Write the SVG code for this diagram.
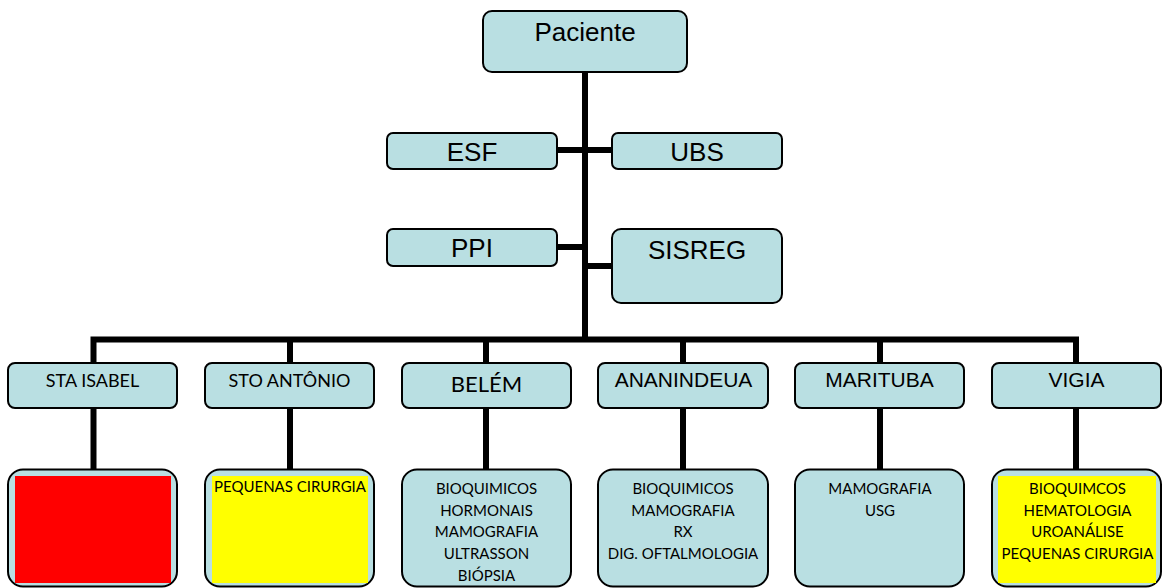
<svg xmlns="http://www.w3.org/2000/svg" width="1164" height="588" viewBox="0 0 1164 588">
<style>
.box{fill:#b9dfe2;stroke:#000;stroke-width:2}
.ar{font-family:"Liberation Sans",Arial,sans-serif;fill:#000;text-anchor:middle}
.ca{font-family:Lato,"Open Sans",sans-serif;fill:#000;text-anchor:middle}
.t26{font-size:26px}
.t21{font-size:21px}
.t18{font-size:18px}
.t22{font-size:22px}
.t15{font-size:15px}
.conn{stroke:#000;stroke-width:6;fill:none}
</style>
<g id="connectors">
<line class="conn" x1="585" y1="72" x2="585" y2="342"/>
<line class="conn" x1="557" y1="150" x2="612" y2="150"/>
<line class="conn" x1="557" y1="247" x2="585" y2="247"/>
<line class="conn" x1="585" y1="266" x2="612" y2="266"/>
<polyline class="conn" points="93.5,363 93.5,339.5 1076,339.5 1076,363"/>
<line class="conn" x1="290" y1="339.5" x2="290" y2="363"/>
<line class="conn" x1="486" y1="339.5" x2="486" y2="363"/>
<line class="conn" x1="683" y1="339.5" x2="683" y2="363"/>
<line class="conn" x1="880" y1="339.5" x2="880" y2="363"/>
<line class="conn" x1="93.5" y1="408" x2="93.5" y2="470"/>
<line class="conn" x1="290" y1="408" x2="290" y2="470"/>
<line class="conn" x1="486" y1="408" x2="486" y2="470"/>
<line class="conn" x1="683" y1="408" x2="683" y2="470"/>
<line class="conn" x1="880" y1="408" x2="880" y2="470"/>
<line class="conn" x1="1076" y1="408" x2="1076" y2="470"/>
</g>
<g id="paciente">
<rect class="box" x="483" y="11" width="204" height="61" rx="9"/>
<text class="ar t26" x="585" y="41">Paciente</text>
</g>
<g id="esf">
<rect class="box" x="387" y="133" width="170" height="36" rx="6"/>
<text class="ar t26" x="472" y="161">ESF</text>
</g>
<g id="ubs">
<rect class="box" x="612" y="133" width="170" height="36" rx="6"/>
<text class="ar t26" x="697" y="161">UBS</text>
</g>
<g id="ppi">
<rect class="box" x="387" y="229" width="170" height="37" rx="6"/>
<text class="ar t26" x="472" y="257">PPI</text>
</g>
<g id="sisreg">
<rect class="box" x="612" y="229" width="170" height="74" rx="9"/>
<text class="ar t26" x="697" y="259">SISREG</text>
</g>
<g id="sta-isabel">
<rect class="box" x="8" y="363" width="169" height="45" rx="7"/>
<text class="ca t18" x="92.5" y="387">STA ISABEL</text>
</g>
<g id="sto-antonio">
<rect class="box" x="205" y="363" width="169" height="45" rx="7"/>
<text class="ca t18" x="289.5" y="387">STO ANTÔNIO</text>
</g>
<g id="belem">
<rect class="box" x="402" y="363" width="169" height="45" rx="7"/>
<text class="ca t22" x="486.5" y="392">BELÉM</text>
</g>
<g id="ananindeua">
<rect class="box" x="598" y="363" width="170" height="45" rx="7"/>
<text class="ar t21" x="683.5" y="387">ANANINDEUA</text>
</g>
<g id="marituba">
<rect class="box" x="795" y="363" width="169" height="45" rx="7"/>
<text class="ar t21" x="879.5" y="387">MARITUBA</text>
</g>
<g id="vigia">
<rect class="box" x="992" y="363" width="169" height="45" rx="7"/>
<text class="ar t21" x="1076.5" y="387">VIGIA</text>
</g>
<g id="sta-isabel-services">
<rect class="box" x="8" y="469.5" width="169" height="117" rx="15"/>
<rect x="15" y="476" width="156" height="107" fill="#ff0000"/>
</g>
<g id="sto-antonio-services">
<rect class="box" x="205" y="469.5" width="169" height="117" rx="15"/>
<rect x="212" y="476" width="156" height="107" fill="#ffff00"/>
<text class="ca t15" x="290" y="492">PEQUENAS CIRURGIA</text>
</g>
<g id="belem-services">
<rect class="box" x="402" y="469.5" width="169" height="117" rx="15"/>
<text class="ca t15" x="486.5" y="494">BIOQUIMICOS</text>
<text class="ca t15" x="486.5" y="515.7">HORMONAIS</text>
<text class="ca t15" x="486.5" y="537.3">MAMOGRAFIA</text>
<text class="ca t15" x="486.5" y="559">ULTRASSON</text>
<text class="ca t15" x="486.5" y="580.7">BIÓPSIA</text>
</g>
<g id="ananindeua-services">
<rect class="box" x="598" y="469.5" width="170" height="117" rx="15"/>
<text class="ca t15" x="683" y="494">BIOQUIMICOS</text>
<text class="ca t15" x="683" y="515.7">MAMOGRAFIA</text>
<text class="ca t15" x="683" y="537.3">RX</text>
<text class="ca t15" x="683" y="559">DIG. OFTALMOLOGIA</text>
</g>
<g id="marituba-services">
<rect class="box" x="795" y="469.5" width="169" height="117" rx="15"/>
<text class="ca t15" x="880" y="494">MAMOGRAFIA</text>
<text class="ca t15" x="880" y="515.7">USG</text>
</g>
<g id="vigia-services">
<rect class="box" x="992" y="469.5" width="169" height="117" rx="15"/>
<rect x="998" y="476" width="158" height="107" fill="#ffff00"/>
<text class="ca t15" x="1077.5" y="494">BIOQUIMCOS</text>
<text class="ca t15" x="1077.5" y="515.7">HEMATOLOGIA</text>
<text class="ca t15" x="1077.5" y="537.3">UROANÁLISE</text>
<text class="ca t15" x="1077.5" y="559">PEQUENAS CIRURGIA</text>
</g>
</svg>
